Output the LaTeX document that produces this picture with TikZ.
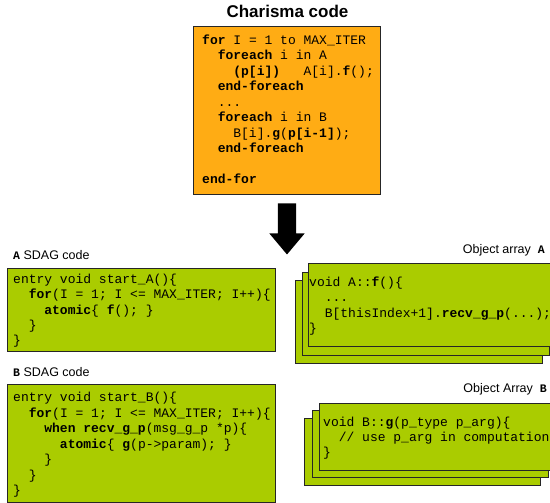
\documentclass[tikz,border=0pt]{standalone}
\usepackage{fontspec}
\setmainfont{Liberation Sans}
\setmonofont{Liberation Mono}
\usetikzlibrary{positioning, shapes.arrows, shadows}
\definecolor{charOrange}{RGB}{255,172,20}
\definecolor{sdagGreen}{RGB}{170,204,0}
\tikzset{
	codebox/.style={draw=black!85, line width=.8pt, anchor=north west, inner sep=0pt, outer sep=0pt,
		drop shadow={shadow xshift=1.2pt, shadow yshift=-1.2pt, fill=black!40, opacity=1}},
	charBox/.style={codebox, fill=charOrange},
	sdagBox/.style={codebox, fill=sdagGreen},
	codeLine/.style={anchor=base west, inner sep=0pt, font=\ttfamily\fontsize{13}{15}\selectfont},
	boxLabel/.style={inner sep=0pt, font=\fontsize{12.5}{15}\selectfont},
	bigArrow/.style={single arrow, fill=black, draw=none, rotate=-90, inner xsep=0pt, inner ysep=9pt,
		minimum height=51pt, minimum width=35pt, single arrow head extend=8.5pt, single arrow tip angle=80}
}
\newcommand{\ind}[1]{\hspace*{#1em}}
\newcommand{\arrName}[1]{{\ttfamily\bfseries\fontsize{11.5}{13}\selectfont #1}}
\newcommand{\codeDots}{...}

\begin{document}
\begin{tikzpicture}[x=1pt, y=-1pt]
\useasboundingbox (0,0) rectangle (550,503);
\clip (0,0) rectangle (550,503);

% charisma program
\node[font=\bfseries\fontsize{17}{20}\selectfont, anchor=base, inner sep=0pt] (chTitle) at (287.5,17.5) {Charisma code};
\node[charBox, minimum width=187pt, minimum height=168pt] (charisma) at (193,26) {};
\foreach \txt [count=\k from 0] in {
	{\textbf{for} I = 1 to MAX\_ITER},
	{\ind{1.2}\textbf{foreach} i in A},
	{\ind{2.4}\textbf{(p[i])}~~~A[i].\textbf{f}();},
	{\ind{1.2}\textbf{end-foreach}},
	{\ind{1.2}\codeDots},
	{\ind{1.2}\textbf{foreach} i in B},
	{\ind{2.4}B[i].\textbf{g}(\textbf{p[i-1]});},
	{\ind{1.2}\textbf{end-foreach}}}
	\node[codeLine] (ch\k) at (202,{44.5+15.5*\k}) {\txt};
\node[codeLine] (chEnd) at (202,184) {\textbf{end-for}};

\node[bigArrow] (conv) at (287,223.5) {};

% SDAG code of A
\node[boxLabel, anchor=base west] (labA) at (13,259.5) {\arrName{A} SDAG code};
\node[sdagBox, minimum width=268pt, minimum height=83pt] (sdagA) at (7,268) {};
\foreach \txt [count=\k from 0] in {
	{entry void start\_A()\{},
	{\ind{1.2}\textbf{for}(I = 1; I <= MAX\_ITER; I++)\{},
	{\ind{2.4}\textbf{atomic}\{ \textbf{f}(); \}},
	{\ind{1.2}\}},
	{\}}}
	\node[codeLine] (a\k) at (13,{283.5+15.3*\k}) {\txt};

% SDAG code of B
\node[boxLabel, anchor=base west] (labB) at (13,376.5) {\arrName{B} SDAG code};
\node[sdagBox, minimum width=268pt, minimum height=118pt] (sdagB) at (7,384) {};
\foreach \txt [count=\k from 0] in {
	{entry void start\_B()\{},
	{\ind{1.2}\textbf{for}(I = 1; I <= MAX\_ITER; I++)\{},
	{\ind{2.4}\textbf{when} \textbf{recv\_g\_p}(msg\_g\_p *p)\{},
	{\ind{3.6}\textbf{atomic}\{ \textbf{g}(p->param); \}},
	{\ind{2.4}\}},
	{\ind{1.2}\}},
	{\}}}
	\node[codeLine] (b\k) at (13,{401.5+15.5*\k}) {\txt};

% object array A
\node[boxLabel, anchor=base east] (labObjA) at (545,253.5) {Object array~~\arrName{A}};
\node[sdagBox, minimum width=247pt, minimum height=83pt] (objA3) at (295,280) {};
\node[sdagBox, minimum width=247pt, minimum height=83pt] (objA2) at (302,272) {};
\node[sdagBox, minimum width=247pt, minimum height=83pt] (objA1) at (308,263) {};
\foreach \txt [count=\k from 0] in {
	{void A::\textbf{f}()\{},
	{\ind{1.2}\codeDots},
	{\ind{1.2}B[thisIndex+1].\textbf{recv\_g\_p}(\codeDots);},
	{\}}}
	\node[codeLine] (oa\k) at (309,{286.5+15.3*\k}) {\txt};

% object array B
\node[boxLabel, anchor=base east] (labObjB) at (547,392.5) {Object Array~~\arrName{B}};
\node[sdagBox, minimum width=236pt, minimum height=67pt] (objB3) at (304,418) {};
\node[sdagBox, minimum width=236pt, minimum height=67pt] (objB2) at (312,410) {};
\node[sdagBox, minimum width=236pt, minimum height=67pt] (objB1) at (319,403) {};
\foreach \txt [count=\k from 0] in {
	{void B::\textbf{g}(p\_type p\_arg)\{},
	{\ind{1.2}// use p\_arg in computation},
	{\}}}
	\node[codeLine] (ob\k) at (323,{426.5+15*\k}) {\txt};
\end{tikzpicture}
\end{document}
